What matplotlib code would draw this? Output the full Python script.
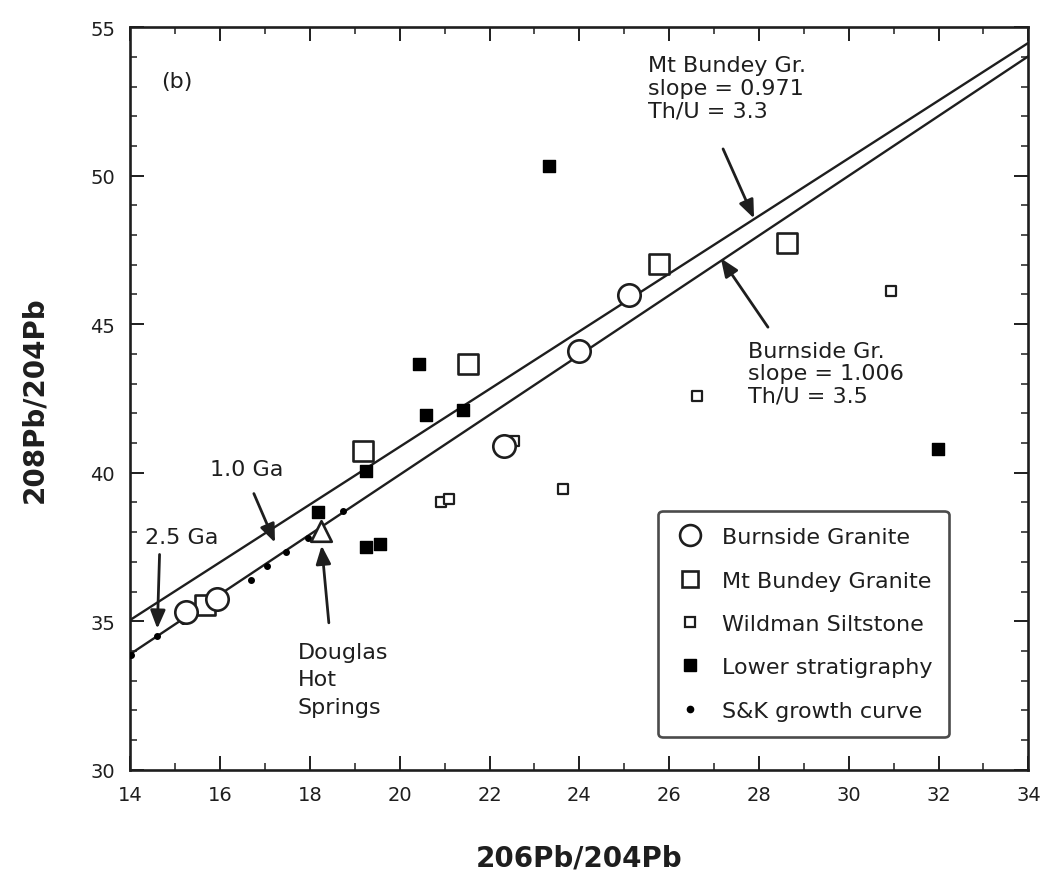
import matplotlib
matplotlib.use("Agg")
import matplotlib.pyplot as plt
from matplotlib.lines import Line2D
import numpy as np

plt.rcParams["font.family"] = ["DejaVu Sans"]

# Burnside Granite (open circles)
burnside_x = [15.23, 15.94, 22.32, 23.99, 25.10]
burnside_y = [35.32, 35.75, 40.90, 44.10, 45.98]

# Mt Bundey Granite (large open squares)
bundey_x = [15.67, 19.17, 21.51, 25.77, 28.63]
bundey_y = [35.55, 40.73, 43.66, 47.03, 47.73]

# Wildman Siltstone (small open squares)
wildman_x = [20.91, 21.09, 22.54, 23.63, 26.62, 30.95]
wildman_y = [39.02, 39.12, 41.07, 39.45, 42.58, 46.12]

# Lower stratigraphy (filled squares)
lower_x = [18.17, 19.24, 19.25, 19.55, 20.42, 20.58, 21.40, 23.32, 31.99]
lower_y = [38.68, 40.06, 37.50, 37.60, 43.66, 41.94, 42.11, 50.34, 40.80]

# Stacey & Kramers growth curve points
sk_x = [14.02, 14.60, 15.18, 15.90, 16.68, 17.05, 17.46, 17.95, 18.73]
sk_y = [33.85, 34.50, 35.02, 35.66, 36.40, 36.86, 37.33, 37.80, 38.71]

# Douglas Hot Springs
douglas_x = [18.24]
douglas_y = [38.04]

# regression lines (slope, value at 206Pb/204Pb = 14)
bundey_slope, bundey_y14 = 0.971, 35.05
burnside_slope, burnside_y14 = 1.006, 33.90

ink = "#1e1e1e"

fig = plt.figure(figsize=(10.43, 8.78), dpi=100)
ax = fig.add_axes([0.125, 0.122, 0.861, 0.846])

xl = np.array([14.0, 34.0])
ax.plot(xl, bundey_y14 + bundey_slope * (xl - 14), color=ink, lw=1.7)
ax.plot(xl, burnside_y14 + burnside_slope * (xl - 14), color=ink, lw=1.7)

ax.scatter(sk_x, sk_y, marker="o", s=16, color="black", zorder=3)
ax.scatter(lower_x, lower_y, marker="s", s=75, color="black", zorder=4)
ax.scatter(wildman_x, wildman_y, marker="s", s=60, facecolor="white",
           edgecolor=ink, linewidths=1.6, zorder=4)
ax.scatter(bundey_x, bundey_y, marker="s", s=190, facecolor="white",
           edgecolor=ink, linewidths=1.9, zorder=5)
ax.scatter(burnside_x, burnside_y, marker="o", s=260, facecolor="white",
           edgecolor=ink, linewidths=1.9, zorder=5)
ax.scatter(douglas_x, douglas_y, marker="^", s=220, facecolor="white",
           edgecolor=ink, linewidths=1.9, zorder=6)

ax.set_xlim(14, 34)
ax.set_ylim(30, 55)
ax.set_xticks(np.arange(14, 35, 2))
ax.set_yticks(np.arange(30, 56, 5))
ax.set_xticks(np.arange(14, 35, 1), minor=True)
ax.set_yticks(np.arange(30, 56, 1), minor=True)
ax.tick_params(which="both", direction="in", top=True, right=True, colors=ink)
ax.tick_params(which="major", length=10, width=1.4, labelsize=14, pad=11)
ax.tick_params(which="minor", length=5, width=1.1)
for s in ax.spines.values():
    s.set_linewidth(1.9)
    s.set_color(ink)

ax.set_xlabel("206Pb/204Pb", fontsize=20, fontweight="bold", labelpad=28,
              color=ink)
ax.set_ylabel("208Pb/204Pb", fontsize=20, fontweight="bold", labelpad=30,
              color=ink)

ax.text(14.68, 53.2, "(b)", fontsize=16, color=ink, va="center")

arrow = dict(arrowstyle="-|>,head_length=1.1,head_width=0.45",
             color=ink, lw=2.0, shrinkA=0, shrinkB=0)
txt = dict(fontsize=16, color=ink, ha="left", va="top")

ax.text(25.53, 54.05, "Mt Bundey Gr.\nslope = 0.971\nTh/U = 3.3",
        linespacing=1.15, **txt)
ax.annotate("", xy=(27.89, 48.56), xytext=(27.2, 50.9), arrowprops=arrow)

ax.text(27.76, 44.45, "Burnside Gr.\nslope = 1.006\nTh/U = 3.5",
        linespacing=1.15, **txt)
ax.annotate("", xy=(27.15, 47.22), xytext=(28.2, 44.9), arrowprops=arrow)

ax.annotate("", xy=(14.6, 34.75), xytext=(14.65, 37.25), arrowprops=arrow)
ax.text(14.33, 37.85, "2.5 Ga", fontsize=16, color=ink, va="center")
ax.annotate("", xy=(17.22, 37.65), xytext=(16.75, 39.3), arrowprops=arrow)
ax.text(15.78, 40.13, "1.0 Ga", fontsize=16, color=ink, va="center")

ax.annotate("", xy=(18.26, 37.55), xytext=(18.42, 34.95), arrowprops=arrow)
ax.text(17.72, 34.3, "Douglas\nHot\nSprings", linespacing=1.45, **txt)

handles = [
    Line2D([], [], ls="", marker="o", ms=15, mfc="white", mec=ink, mew=1.9),
    Line2D([], [], ls="", marker="s", ms=12, mfc="white", mec=ink, mew=1.9),
    Line2D([], [], ls="", marker="s", ms=7.5, mfc="white", mec=ink, mew=1.6),
    Line2D([], [], ls="", marker="s", ms=8.5, color="black"),
    Line2D([], [], ls="", marker="o", ms=4.5, color="black"),
]
labels = ["Burnside Granite", "Mt Bundey Granite", "Wildman Siltstone",
          "Lower stratigraphy", "S&K growth curve"]
leg = ax.legend(handles, labels, loc="lower left",
                bbox_to_anchor=(0.588, 0.044), borderaxespad=0, fontsize=16,
                frameon=True, fancybox=True, edgecolor=ink, labelspacing=1.05,
                handletextpad=0.8, borderpad=0.75, handlelength=1.3)
leg.get_frame().set_linewidth(1.9)
for t in leg.get_texts():
    t.set_color(ink)

fig.savefig("out.png", dpi=100, facecolor="white")
